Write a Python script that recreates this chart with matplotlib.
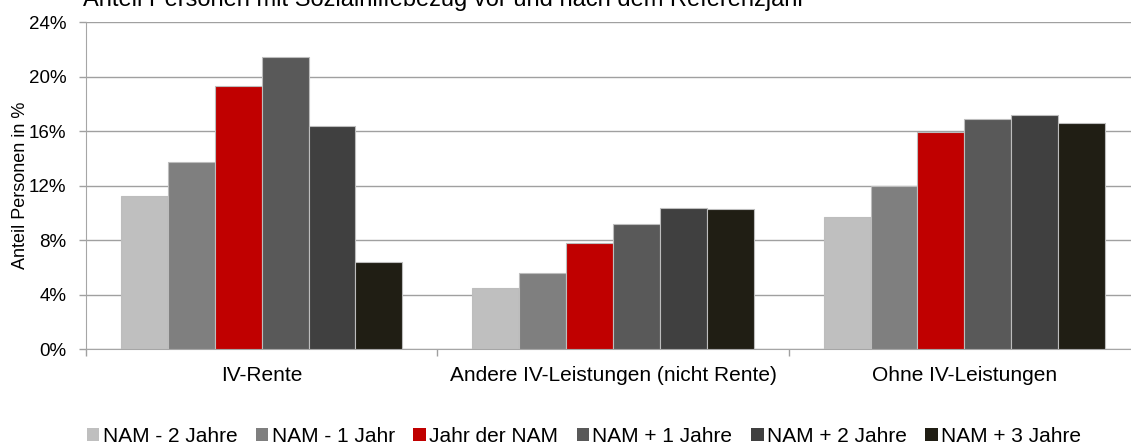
import matplotlib
matplotlib.use("Agg")
import matplotlib.pyplot as plt
import numpy as np
from matplotlib.patches import Patch

plt.rcParams['font.family'] = ['Liberation Sans', 'DejaVu Sans']

categories = ["IV-Rente", "Andere IV-Leistungen (nicht Rente)", "Ohne IV-Leistungen"]
series_names = ["NAM - 2 Jahre", "NAM - 1 Jahr", "Jahr der NAM",
                "NAM + 1 Jahre", "NAM + 2 Jahre", "NAM + 3 Jahre"]
values = [
    [11.2, 4.45, 9.7],    # NAM - 2 Jahre
    [13.75, 5.55, 11.95], # NAM - 1 Jahr
    [19.3, 7.75, 15.95],  # Jahr der NAM
    [21.45, 9.2, 16.9],   # NAM + 1 Jahre
    [16.4, 10.35, 17.15], # NAM + 2 Jahre
    [6.4, 10.25, 16.6],   # NAM + 3 Jahre
]
colors = ["#BFBFBF", "#7F7F7F", "#C00000", "#595959", "#404040", "#201E14"]
yticks = [0, 4, 8, 12, 16, 20, 24]
ytick_labels = ["0%", "4%", "8%", "12%", "16%", "20%", "24%"]
title = "Anteil Personen mit Sozialhilfebezug vor und nach dem Referenzjahr"
ylabel = "Anteil Personen in %"

W, H = 1131, 445
fig = plt.figure(figsize=(W / 100, H / 100), dpi=100)
ax = fig.add_axes([86 / W, (H - 349) / H, (1140 - 86) / W, (349 - 22) / H])

x = np.arange(len(categories))
n = len(series_names)
group_w = 0.8
bw = group_w / n
for i, (name, vals, c) in enumerate(zip(series_names, values, colors)):
    offs = -group_w / 2 + bw * (i + 0.5)
    ax.bar(x + offs, vals, width=bw, color=c, edgecolor="#BDBDBD",
           linewidth=0.8, zorder=3, label=name)

ax.set_xlim(-0.5, len(categories) - 0.5)
ax.set_ylim(0, 24)
ax.set_yticks(yticks)
ax.set_yticklabels(ytick_labels, fontsize=13.5)
ax.yaxis.grid(True, color="#A0A0A0", linewidth=1.0, zorder=0)
ax.set_axisbelow(True)

ax.set_xticks(x)
ax.set_xticklabels(categories, fontsize=15)
ax.tick_params(axis='x', which='major', length=0, pad=12)
ax.set_xticks(np.arange(len(categories) + 1) - 0.5, minor=True)
ax.tick_params(axis='x', which='minor', length=5, color="#A0A0A0", width=1)
ax.tick_params(axis='y', length=5, color="#A0A0A0", width=1, pad=9)

for s in ["top", "right"]:
    ax.spines[s].set_visible(False)
ax.spines["left"].set_color("#A6A6A6")
ax.spines["bottom"].set_color("#A6A6A6")

ax.set_ylabel(ylabel, fontsize=13)
ax.yaxis.set_label_coords((29 - 86) / (1140 - 86), 0.5)

fig.text(83 / W, 1 - 6 / H, title, fontsize=17, ha="left", va="baseline")

handles = [Patch(facecolor=c, edgecolor="none") for c in colors]
fig.legend(handles, series_names, loc="center", bbox_to_anchor=(584 / W, 1 - 436 / H),
           ncol=6, frameon=False, fontsize=15, handlelength=0.6, handleheight=0.6,
           handletextpad=0.15, columnspacing=0.9, borderpad=0, borderaxespad=0)

fig.savefig("out.png", dpi=100)
